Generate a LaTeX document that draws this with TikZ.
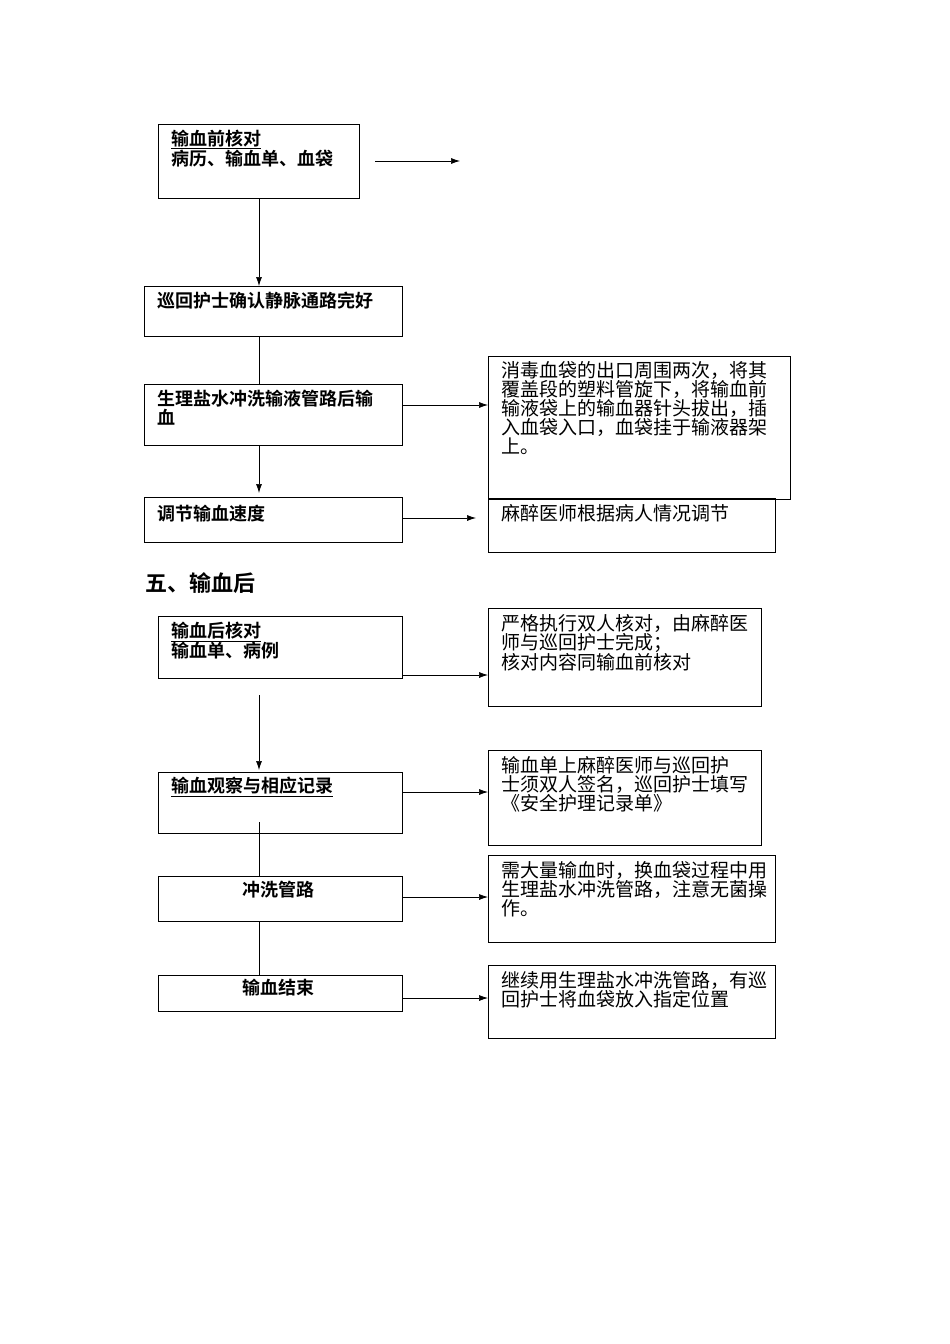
\documentclass[tikz,border=0pt]{standalone}
\usepackage{fontspec}
\setmainfont{Noto Sans CJK SC}
\newfontfamily\cjkb{Noto Sans CJK SC Bold}
\usetikzlibrary{arrows.meta}
\begin{document}
\begin{tikzpicture}[x=1pt,y=-1pt,
 box/.style={draw,line width=0.8pt},
 lt/.style={anchor=north west,font=\cjkb\fontsize{18}{19}\selectfont,align=left,inner sep=0},
 rt/.style={anchor=north west,font=\fontsize{19}{19}\selectfont,align=left,inner sep=0},
 arr/.style={-{Latex[length=9pt,width=6pt]},line width=0.7pt}]
\useasboundingbox (0,0) rectangle (950,1344);
% left boxes
\draw[box] (158,124) rectangle (359,198) coordinate (b1);
\node[lt] (t1) at (171,130) {\underline{输血前核对}\\病历、输血单、血袋};
\draw[box] (144,286) rectangle (402,336);
\node[lt] (t2) at (157,292) {巡回护士确认静脉通路完好};
\draw[box] (144,384) rectangle (402,445);
\node[lt] (t3) at (157,390) {生理盐水冲洗输液管路后输\\血};
\draw[box] (144,497) rectangle (402,542);
\node[lt] (t4) at (157,505) {调节输血速度};
\node[anchor=north west,inner sep=0,font=\cjkb\fontsize{22}{24}\selectfont] (h) at (145,572) {五、输血后};
\draw[box] (158,616) rectangle (402,678);
\node[lt] (t5) at (171,622) {\underline{输血后核对}\\输血单、病例};
\draw[box] (158,772) rectangle (402,833);
\node[lt] (t6) at (171,777) {\underline{输血观察与相应记录}};
\draw[box] (158,876) rectangle (402,921);
\node[lt] (t7) at (242,881) {冲洗管路};
\draw[box] (158,975) rectangle (402,1011);
\node[lt] (t8) at (242,979) {输血结束};
% right boxes
\draw[box] (488,356) rectangle (790,499);
\node[rt] (r1) at (501,361) {消毒血袋的出口周围两次，将其\\覆盖段的塑料管旋下，将输血前\\输液袋上的输血器针头拔出，插\\入血袋入口，血袋挂于输液器架\\上。};
\draw[box] (488,498) rectangle (775,552);
\node[rt] (r2) at (501,504) {麻醉医师根据病人情况调节};
\draw[box] (488,608) rectangle (761,706);
\node[rt] (r3) at (501,614) {严格执行双人核对，由麻醉医\\师与巡回护士完成；\\核对内容同输血前核对};
\draw[box] (488,750) rectangle (761,845);
\node[rt] (r4) at (501,756) {输血单上麻醉医师与巡回护\\士须双人签名，巡回护士填写\\《安全护理记录单》};
\draw[box] (488,855) rectangle (775,942);
\node[rt] (r5) at (501,861) {需大量输血时，换血袋过程中用\\生理盐水冲洗管路，注意无菌操\\作。};
\draw[box] (488,965) rectangle (775,1038);
\node[rt] (r6) at (501,971) {继续用生理盐水冲洗管路，有巡\\回护士将血袋放入指定位置};
% connectors
\coordinate (e0) at (460,161);
\draw[arr] (375,161) -- (e0);
\draw[arr] (259,198) -- (259,286);
\draw[line width=0.7pt] (259,336) -- (259,384);
\draw[arr] (259,445) -- (259,493);
\draw[arr] (402,405) -- (488,405);
\draw[arr] (402,518) -- (476,518);
\draw[arr] (402,675) -- (488,675);
\draw[arr] (259,695) -- (259,770);
\draw[arr] (402,792) -- (488,792);
\draw[line width=0.7pt] (259,822) -- (259,876);
\draw[arr] (402,897) -- (488,897);
\draw[line width=0.7pt] (259,921) -- (259,975);
\draw[arr] (402,998) -- (488,998);
\end{tikzpicture}
\end{document}
